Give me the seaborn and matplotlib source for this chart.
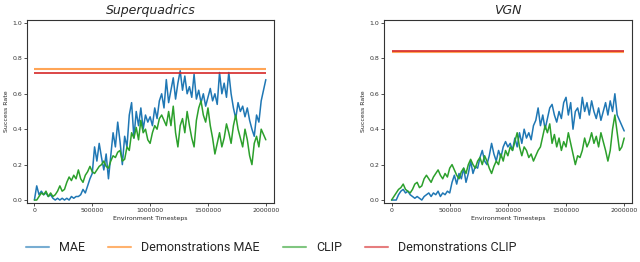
import numpy as np
import pandas as pd
import matplotlib
matplotlib.use("Agg")
import matplotlib.pyplot as plt
import seaborn as sns
from matplotlib.lines import Line2D

# success rates sampled every 20k environment timesteps (0 .. 2M)
sq_mae = [0.00, 0.08, 0.03, 0.05, 0.03, 0.04, 0.02, 0.03, 0.01, 0.00,
          0.01, 0.00, 0.01, 0.00, 0.01, 0.00, 0.02, 0.01, 0.02, 0.02,
          0.03, 0.06, 0.04, 0.08, 0.12, 0.15, 0.30, 0.22, 0.32, 0.24,
          0.17, 0.26, 0.12, 0.25, 0.38, 0.30, 0.44, 0.33, 0.20, 0.36,
          0.30, 0.48, 0.55, 0.35, 0.50, 0.42, 0.52, 0.40, 0.48, 0.44,
          0.47, 0.42, 0.52, 0.46, 0.56, 0.60, 0.52, 0.68, 0.55, 0.62,
          0.69, 0.57, 0.66, 0.73, 0.62, 0.70, 0.60, 0.64, 0.58, 0.71,
          0.57, 0.62, 0.55, 0.60, 0.53, 0.58, 0.63, 0.56, 0.60, 0.54,
          0.72, 0.60, 0.66, 0.58, 0.72, 0.60, 0.52, 0.46, 0.55, 0.50,
          0.53, 0.47, 0.52, 0.45, 0.40, 0.36, 0.48, 0.44, 0.56, 0.62,
          0.68]
sq_clip = [0.00, 0.00, 0.02, 0.04, 0.03, 0.05, 0.02, 0.04, 0.02, 0.03,
           0.05, 0.08, 0.05, 0.06, 0.10, 0.13, 0.11, 0.14, 0.12, 0.17,
           0.12, 0.10, 0.14, 0.16, 0.19, 0.16, 0.15, 0.17, 0.19, 0.20,
           0.22, 0.19, 0.18, 0.22, 0.25, 0.24, 0.27, 0.28, 0.22, 0.23,
           0.30, 0.28, 0.38, 0.35, 0.41, 0.34, 0.45, 0.38, 0.40, 0.34,
           0.32, 0.38, 0.42, 0.40, 0.46, 0.48, 0.45, 0.42, 0.50, 0.42,
           0.53, 0.38, 0.30, 0.42, 0.46, 0.38, 0.50, 0.42, 0.35, 0.30,
           0.45, 0.52, 0.56, 0.48, 0.44, 0.52, 0.42, 0.35, 0.26, 0.32,
           0.38, 0.30, 0.35, 0.43, 0.38, 0.32, 0.42, 0.48, 0.40, 0.35,
           0.30, 0.40, 0.34, 0.25, 0.20, 0.32, 0.36, 0.30, 0.40, 0.37,
           0.34]
vgn_mae = [0.00, 0.00, 0.00, 0.03, 0.05, 0.06, 0.04, 0.05, 0.03, 0.02,
           0.01, 0.02, 0.01, 0.00, 0.02, 0.03, 0.04, 0.02, 0.04, 0.03,
           0.05, 0.02, 0.04, 0.03, 0.05, 0.04, 0.10, 0.14, 0.09, 0.15,
           0.12, 0.18, 0.10, 0.15, 0.22, 0.15, 0.19, 0.18, 0.24, 0.28,
           0.22, 0.20, 0.25, 0.32, 0.26, 0.22, 0.28, 0.24, 0.30, 0.33,
           0.30, 0.32, 0.28, 0.35, 0.30, 0.38, 0.32, 0.40, 0.35, 0.38,
           0.34, 0.42, 0.45, 0.52, 0.42, 0.48, 0.40, 0.46, 0.52, 0.54,
           0.48, 0.44, 0.50, 0.46, 0.55, 0.58, 0.48, 0.55, 0.40, 0.50,
           0.52, 0.46, 0.58, 0.50, 0.55, 0.48, 0.56, 0.50, 0.46, 0.52,
           0.45, 0.50, 0.55, 0.48, 0.56, 0.50, 0.60, 0.48, 0.45, 0.42,
           0.39]
vgn_clip = [0.00, 0.02, 0.04, 0.06, 0.07, 0.09, 0.06, 0.05, 0.04, 0.06,
            0.09, 0.10, 0.07, 0.08, 0.12, 0.14, 0.12, 0.10, 0.13, 0.15,
            0.17, 0.14, 0.12, 0.15, 0.13, 0.18, 0.20, 0.17, 0.14, 0.12,
            0.16, 0.18, 0.15, 0.20, 0.23, 0.20, 0.18, 0.22, 0.24, 0.20,
            0.25, 0.22, 0.18, 0.15, 0.19, 0.22, 0.20, 0.26, 0.22, 0.28,
            0.25, 0.30, 0.28, 0.33, 0.38, 0.30, 0.25, 0.30, 0.28, 0.24,
            0.26, 0.22, 0.25, 0.28, 0.30, 0.36, 0.42, 0.38, 0.43, 0.32,
            0.37, 0.30, 0.35, 0.28, 0.33, 0.30, 0.38, 0.32, 0.26, 0.20,
            0.25, 0.24, 0.28, 0.35, 0.30, 0.33, 0.38, 0.32, 0.36, 0.30,
            0.38, 0.33, 0.28, 0.22, 0.28, 0.40, 0.48, 0.38, 0.28, 0.30,
            0.35]

# demonstration baselines
demo_mae = {"Superquadrics": 0.74, "VGN": 0.835}
demo_clip = {"Superquadrics": 0.72, "VGN": 0.842}

panels = {"Superquadrics": (sq_mae, sq_clip), "VGN": (vgn_mae, vgn_clip)}
colors = {"MAE": "#1f77b4", "Demonstrations MAE": "#ff7f0e",
          "CLIP": "#2ca02c", "Demonstrations CLIP": "#d62728"}

sns.set_style("white")
fig = plt.figure(figsize=(6.4, 2.62), dpi=100)
axes = [fig.add_axes([0.042, 0.225, 0.386, 0.699]),
        fig.add_axes([0.600, 0.225, 0.388, 0.699])]

for ax, (name, (mae, clip)) in zip(axes, panels.items()):
    steps = np.linspace(0, 2_000_000, len(mae))
    df = pd.DataFrame({
        "step": np.concatenate([steps, steps]),
        "rate": mae + clip,
        "method": ["MAE"] * len(mae) + ["CLIP"] * len(clip),
    })
    sns.lineplot(data=df, x="step", y="rate", hue="method", palette=colors,
                 estimator=None, linewidth=1.1, ax=ax, legend=False)
    ax.hlines(demo_mae[name], 0, 2_000_000, color=colors["Demonstrations MAE"],
              linewidth=1.5, alpha=0.7)
    ax.hlines(demo_clip[name], 0, 2_000_000, color=colors["Demonstrations CLIP"],
              linewidth=1.2)
    ax.set_xlim(-65000, 2070000)
    ax.set_ylim(-0.017, 1.017)
    ax.set_yticks([0.0, 0.2, 0.4, 0.6, 0.8, 1.0])
    ax.set_xticks([0, 500000, 1000000, 1500000, 2000000])
    ax.ticklabel_format(axis="x", style="plain")
    ax.tick_params(labelsize=4.5, colors="#333333", length=2, width=0.6,
                   pad=1.5, left=True, bottom=True)
    ax.set_xlabel("Environment Timesteps", fontsize=4.5, labelpad=2)
    ax.set_ylabel("Success Rate", fontsize=4.5, labelpad=2)
    ax.set_title(name, fontsize=9, style="italic", pad=4)
    for s in ax.spines.values():
        s.set_color("#333333")
        s.set_linewidth(0.8)

handles = [Line2D([], [], color=c, linewidth=1.5, alpha=0.6) for c in colors.values()]
fig.legend(handles, list(colors.keys()), loc="center", ncol=4,
           frameon=False, bbox_to_anchor=(0.424, 0.055),
           handlelength=1.85, columnspacing=1.85, handletextpad=0.8,
           prop={"family": "Roboto", "size": 9})

fig.savefig("out.png", dpi=100)
